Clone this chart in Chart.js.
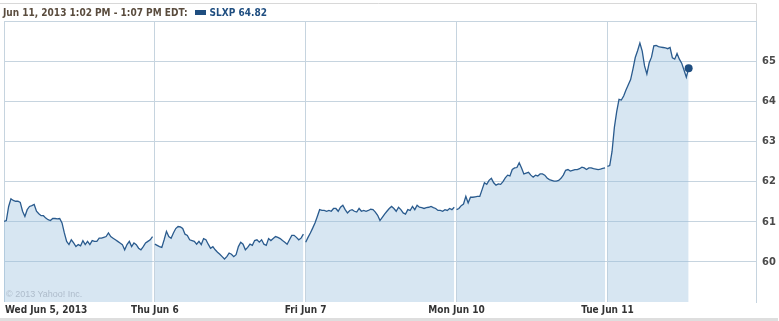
<!DOCTYPE html>
<html>
<head>
<meta charset="utf-8">
<script src="https://cdn.jsdelivr.net/npm/chart.js@4"></script>
<style>
  html, body { margin: 0; padding: 0; background: #fff; }
  #wrap { position: relative; width: 779px; height: 321px; }
  #head { position: absolute; left: 3px; top: 7px; font: bold 10px "DejaVu Sans Condensed", "DejaVu Sans", sans-serif; color: #5a4c3e; white-space: nowrap; }
  #head .sw { display: inline-block; width: 11px; height: 5px; background: #1f4e80; margin: 0 4px 1px 7px; vertical-align: middle; }
  #head .tk { color: #1f4e80; }
  #copy { position: absolute; left: 6px; top: 289px; font: 9px "Liberation Sans", Arial, sans-serif; color: #aebccb; }
</style>
</head>
<body>
<div id="wrap">
  <canvas id="chart" width="779" height="321"></canvas>
  <div id="head">Jun 11, 2013 1:02 PM - 1:07 PM EDT:<span class="sw"></span><span class="tk">SLXP 64.82</span></div>
  <div id="copy">© 2013 Yahoo! Inc.</div>
</div>
<script>
// trading days shown on the x axis
var dayLabels = ["Wed Jun 5, 2013", "Thu Jun 6", "Fri Jun 7", "Mon Jun 10", "Tue Jun 11"];
var yTicks = [60, 61, 62, 63, 64, 65];
var stepsPerDay = 65; // one sample every 6 minutes, 9:30 to 16:00

// SLXP price
var jun5 = [61.01, 61.03, 61.38, 61.57, 61.53, 61.51, 61.51, 61.48, 61.26, 61.13,
            61.30, 61.38, 61.40, 61.43, 61.26, 61.20, 61.15, 61.15, 61.09, 61.05,
            61.03, 61.08, 61.08, 61.07, 61.08, 60.97, 60.72, 60.51, 60.43, 60.55,
            60.47, 60.38, 60.43, 60.40, 60.53, 60.43, 60.51, 60.43, 60.53, 60.51,
            60.51, 60.59, 60.59, 60.61, 60.63, 60.72, 60.63, 60.59, 60.55, 60.51,
            60.47, 60.43, 60.30, 60.43, 60.51, 60.38, 60.47, 60.43, 60.34, 60.30,
            60.38, 60.47, 60.51, 60.55, 60.63];
var jun6 = [60.44, 60.41, 60.38, 60.36, 60.55, 60.76, 60.63, 60.59, 60.72, 60.83,
            60.88, 60.87, 60.83, 60.69, 60.66, 60.55, 60.53, 60.51, 60.44, 60.51,
            60.43, 60.58, 60.55, 60.44, 60.34, 60.38, 60.30, 60.24, 60.19, 60.13,
            60.07, 60.13, 60.22, 60.19, 60.13, 60.18, 60.38, 60.49, 60.44, 60.30,
            60.36, 60.44, 60.41, 60.53, 60.55, 60.49, 60.55, 60.44, 60.41, 60.58,
            60.53, 60.58, 60.63, 60.61, 60.58, 60.53, 60.49, 60.44, 60.55, 60.66,
            60.66, 60.61, 60.55, 60.59, 60.69];
var jun7 = [60.49, 60.61, 60.72, 60.84, 60.97, 61.13, 61.30, 61.28, 61.28, 61.26,
            61.28, 61.26, 61.33, 61.33, 61.26, 61.36, 61.41, 61.30, 61.22, 61.28,
            61.30, 61.26, 61.24, 61.33, 61.26, 61.28, 61.26, 61.28, 61.31, 61.30,
            61.24, 61.16, 61.03, 61.11, 61.19, 61.26, 61.33, 61.38, 61.33, 61.26,
            61.36, 61.30, 61.22, 61.19, 61.30, 61.28, 61.38, 61.30, 61.41, 61.36,
            61.35, 61.33, 61.35, 61.36, 61.38, 61.35, 61.33, 61.28, 61.28, 61.26,
            61.30, 61.28, 61.33, 61.30, 61.36];
var jun10 = [61.30, 61.33, 61.40, 61.44, 61.63, 61.47, 61.61, 61.61, 61.62, 61.63,
             61.63, 61.80, 61.97, 61.93, 62.03, 62.08, 61.97, 61.91, 61.94, 61.93,
             62.00, 62.09, 62.16, 62.14, 62.30, 62.34, 62.35, 62.47, 62.34, 62.19,
             62.21, 62.23, 62.16, 62.11, 62.16, 62.14, 62.19, 62.19, 62.16, 62.09,
             62.05, 62.03, 62.01, 62.01, 62.03, 62.08, 62.16, 62.28, 62.30, 62.26,
             62.28, 62.30, 62.30, 62.32, 62.36, 62.34, 62.30, 62.34, 62.34, 62.32,
             62.31, 62.30, 62.31, 62.33, 62.34];
var jun11 = [62.38, 62.40, 62.75, 63.35, 63.74, 64.05, 64.03, 64.13, 64.28, 64.41,
             64.54, 64.80, 65.09, 65.26, 65.45, 65.25, 64.88, 64.68, 64.96, 65.10,
             65.38, 65.39, 65.36, 65.35, 65.34, 65.33, 65.31, 65.34, 65.08, 65.05,
             65.19, 65.05, 64.95, 64.78, 64.60, 64.82];

var lineColor = "#2a5b8e";
var gridColor = "#c6d4df";
var labelFont = "\"DejaVu Sans Condensed\", \"DejaVu Sans\", sans-serif";

// one point per sample, a null between days so the line breaks there
var points = [];
[jun5, jun6, jun7, jun10, jun11].forEach(function (arr, d) {
  if (d > 0) points.push({ x: d - 0.002, y: null });
  arr.forEach(function (v, i) {
    points.push({ x: d + i / stepsPerDay, y: v });
  });
});

var dayTicks = {
  id: "dayTicks",
  afterDraw: function (chart) {
    var c = chart.ctx, xs = chart.scales.x, area = chart.chartArea;
    c.save();
    c.font = "bold 10px " + labelFont;
    c.fillStyle = "#333";
    c.textBaseline = "middle";
    dayLabels.forEach(function (t, i) {
      var px = xs.getPixelForValue(i);
      c.textAlign = i === 0 ? "left" : "center";
      c.fillText(t, i === 0 ? px + 1 : px, 310);
    });
    // header box and footer strip
    c.strokeStyle = "#d8d8d8";
    c.lineWidth = 1;
    c.beginPath();
    c.moveTo(0, 3.5);
    c.lineTo(area.right + 0.5, 3.5);
    c.lineTo(area.right + 0.5, area.top);
    c.stroke();
    c.fillStyle = "#dedede";
    c.fillRect(0, 318, area.right + 22, 3);
    c.restore();
  }
};

var ctx = document.getElementById("chart").getContext("2d");
var myChart = new Chart(ctx, {
  type: "line",
  data: {
    datasets: [{
      label: "SLXP",
      data: points,
      borderColor: lineColor,
      borderWidth: 1.3,
      backgroundColor: "rgba(150,190,220,0.38)",
      fill: "start",
      tension: 0,
      spanGaps: false,
      pointRadius: function (c) { return c.dataIndex === points.length - 1 ? 4 : 0; },
      pointBackgroundColor: "#1f4e80",
      pointBorderWidth: 0
    }]
  },
  plugins: [dayTicks],
  options: {
    responsive: false,
    animation: false,
    layout: { padding: { top: 21, left: -2, right: 0, bottom: 0 } },
    plugins: { legend: { display: false }, tooltip: { enabled: false } },
    scales: {
      x: {
        type: "linear",
        min: 0,
        max: 4.985,
        ticks: { display: false, stepSize: 1 },
        grid: { color: gridColor, drawTicks: false },
        border: { display: false },
        afterFit: function (s) { s.height = 19; }
      },
      y: {
        position: "right",
        min: 59,
        max: 66,
        afterBuildTicks: function (s) {
          s.ticks = yTicks.concat([66]).map(function (v) { return { value: v }; });
        },
        ticks: {
          padding: 6,
          color: "#4a4a4a",
          font: { family: labelFont, weight: "bold", size: 11 },
          callback: function (v) { return yTicks.indexOf(v) >= 0 ? v : ""; }
        },
        grid: { color: gridColor, drawTicks: false },
        border: { color: gridColor },
        afterFit: function (s) { s.width = 23; }
      }
    }
  }
});
</script>
</body>
</html>
